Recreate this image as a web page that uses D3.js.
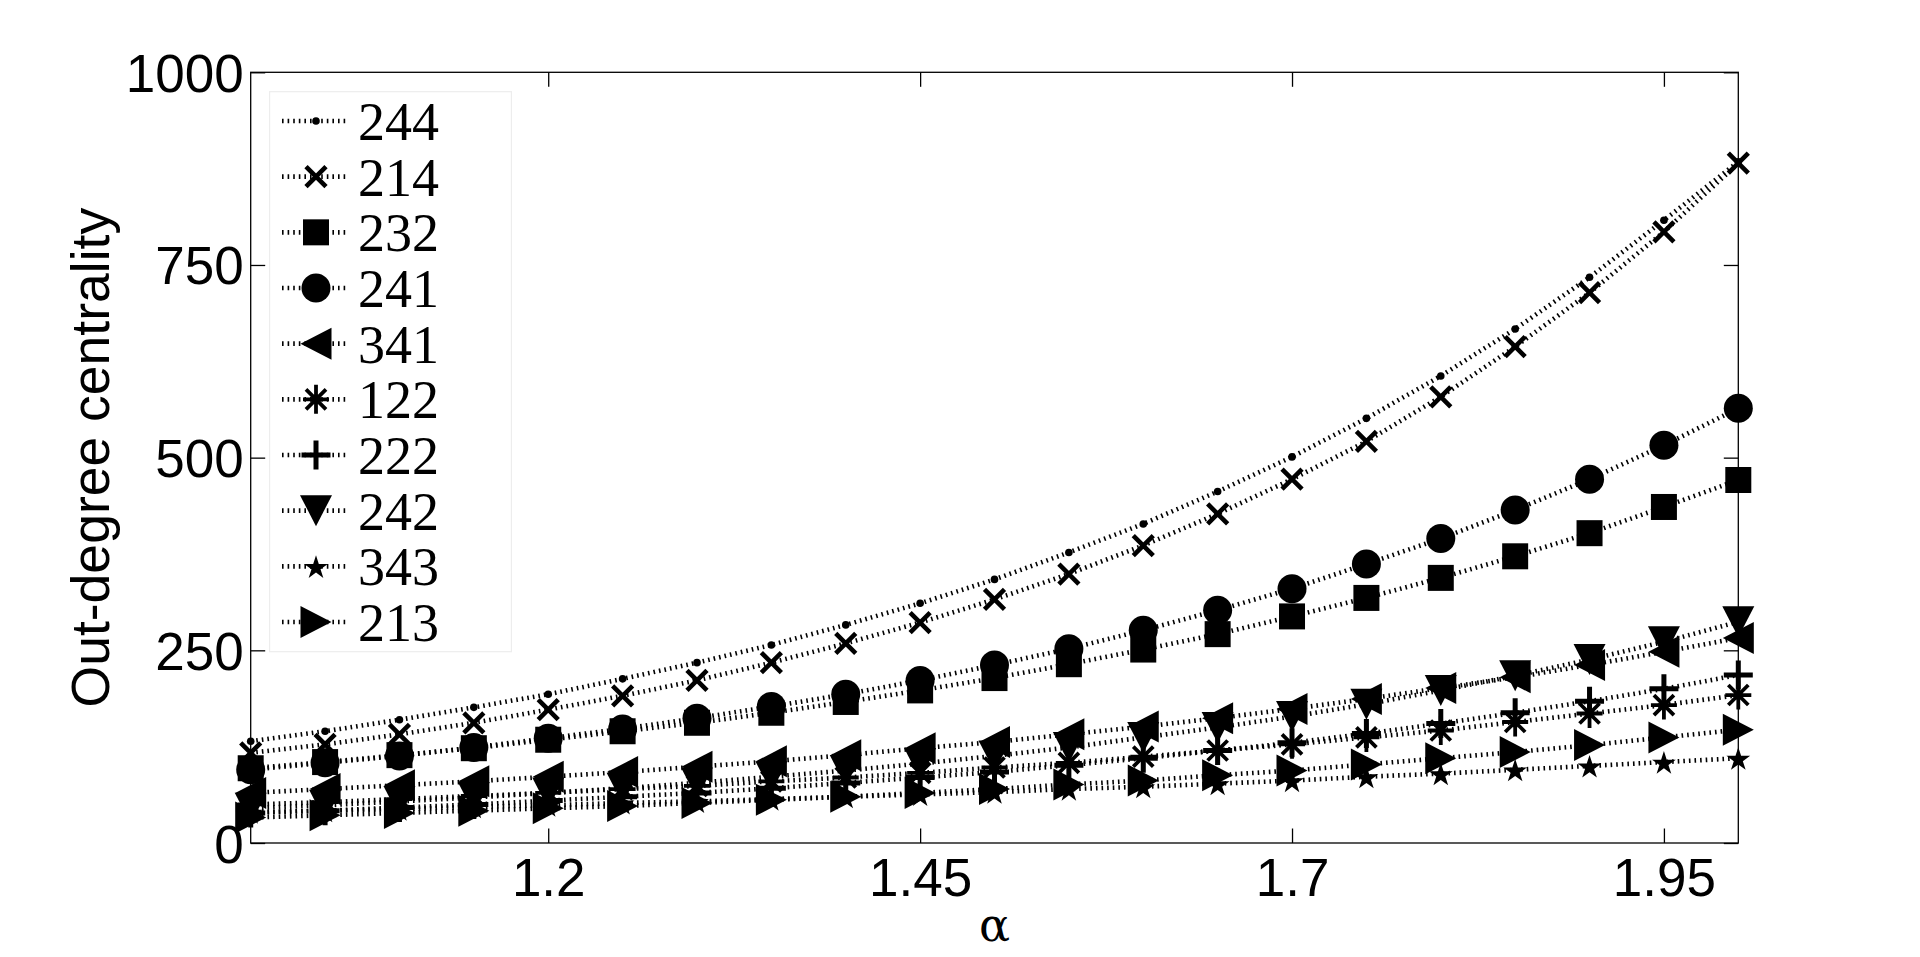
<!DOCTYPE html>
<html><head><meta charset="utf-8">
<script src="https://cdn.jsdelivr.net/npm/d3@7/dist/d3.min.js"></script>
<style>body{margin:0;background:#fff;overflow:hidden}</style>
</head><body>
<svg id="chart" width="1920" height="957"></svg>
<script>
// ---------- data ----------
const alphaValues = [1.00,1.05,1.10,1.15,1.20,1.25,1.30,1.35,1.40,1.45,1.50,1.55,1.60,1.65,1.70,1.75,1.80,1.85,1.90,1.95,2.00];
const seriesNames = ["244","214","232","241","341","122","222","242","343","213"];
const seriesMarkers = ["dot","x","square","circle","left","asterisk","plus","down","star","right"];
const s244 = [132,145,160,176,193,213,234,257,283,311,342,377,414,456,501,551,606,667,734,808,884];
const s214 = [117,128,141,156,173,191,211,234,259,286,316,349,386,427,472,521,579,644,714,793,882];
const s232 = [97,105,114,123,134,145,156,169,183,198,214,232,251,271,294,318,344,372,402,436,471];
const s241 = [95,104,113,124,136,148,162,177,193,211,231,252,276,302,330,362,395,432,472,516,564];
const s341 = [65,70,75,80,86,92,99,106,114,123,131,141,151,162,174,187,201,215,231,248,266];
const s122 = [50,53,57,61,65,70,74,80,85,91,98,104,112,120,128,137,146,157,168,179,192];
const s222 = [39,42,46,50,55,60,65,71,78,85,92,101,110,120,130,142,155,169,184,200,218];
const s242 = [45,49,54,59,65,71,78,86,94,103,113,124,137,150,164,180,198,217,238,261,287];
const s343 = [40,42,44,47,49,52,54,57,60,63,66,70,73,77,81,86,90,95,100,105,110];
const s213 = [33,36,39,42,45,48,52,56,60,65,70,76,81,88,94,102,110,118,127,137,147];
const seriesValues = [s244,s214,s232,s241,s341,s122,s222,s242,s343,s213];
const xTickValues = [1.2,1.45,1.7,1.95];
const xTickLabels = ["1.2","1.45","1.7","1.95"];
const yTickValues = [0,250,500,750,1000];
const yTickLabels = ["0","250","500","750","1000"];

// ---------- layout ----------
const L = 250.7, R = 1738.3, T = 72.3, B = 843;
const svg = d3.select("#chart");
const x = d3.scaleLinear().domain([1,2]).range([L,R]);
const y = d3.scaleLinear().domain([0,1000]).range([B,T]);
const tickLen = 14.5;
const sansFont = "'Liberation Sans', Arial, Helvetica, sans-serif";
const serifFont = "'Liberation Serif', 'Times New Roman', serif";

// ---------- markers ----------
function marker(g, type, cx, cy) {
  const k = "#000";
  switch (type) {
    case "dot":
      g.append("circle").attr("cx",cx).attr("cy",cy).attr("r",3.8).attr("fill",k); break;
    case "x": {
      const h = 10;
      g.append("path").attr("d",`M${cx-h},${cy-h}L${cx+h},${cy+h}M${cx-h},${cy+h}L${cx+h},${cy-h}`)
        .attr("stroke",k).attr("stroke-width",4.6).attr("fill","none"); break; }
    case "square":
      g.append("rect").attr("x",cx-13).attr("y",cy-13).attr("width",26).attr("height",26).attr("fill",k); break;
    case "circle":
      g.append("circle").attr("cx",cx).attr("cy",cy).attr("r",14.5).attr("fill",k); break;
    case "left":
      g.append("path").attr("d",`M${cx-15.5},${cy}L${cx+15.5},${cy-16}L${cx+15.5},${cy+16}Z`).attr("fill",k); break;
    case "right":
      g.append("path").attr("d",`M${cx+15.5},${cy}L${cx-15.5},${cy-16}L${cx-15.5},${cy+16}Z`).attr("fill",k); break;
    case "down":
      g.append("path").attr("d",`M${cx},${cy+15.5}L${cx-16},${cy-15.5}L${cx+16},${cy-15.5}Z`).attr("fill",k); break;
    case "star":
      g.append("path").attr("d", d3.symbol(d3.symbolStar, 14*14*0.8908)()).attr("transform",`translate(${cx},${cy+1.5})`).attr("fill",k); break;
    case "plus": {
      const h = 14.5;
      g.append("path").attr("d",`M${cx-h},${cy}L${cx+h},${cy}M${cx},${cy-h}L${cx},${cy+h}`)
        .attr("stroke",k).attr("stroke-width",5).attr("fill","none"); break; }
    case "asterisk": {
      g.append("path").attr("d",`M${cx-13},${cy}L${cx+13},${cy}M${cx},${cy-14.5}L${cx},${cy+14.5}M${cx-10},${cy-10}L${cx+10},${cy+10}M${cx-10},${cy+10}L${cx+10},${cy-10}`)
        .attr("stroke",k).attr("stroke-width",3.8).attr("fill","none"); break; }
  }
}

// ---------- axes ----------
svg.append("rect").attr("x",L).attr("y",T).attr("width",R-L).attr("height",B-T)
  .attr("fill","none").attr("stroke","#000").attr("stroke-width",1.3);

const gx = svg.append("g").attr("transform",`translate(0,${B})`)
  .call(d3.axisBottom(x).tickValues(xTickValues).tickFormat((d,i)=>xTickLabels[i]).tickSizeInner(-tickLen).tickSizeOuter(0).tickPadding(0));
const gxt = svg.append("g").attr("transform",`translate(0,${T})`)
  .call(d3.axisTop(x).tickValues(xTickValues).tickFormat("").tickSizeInner(-tickLen).tickSizeOuter(0));
const gy = svg.append("g").attr("transform",`translate(${L},0)`)
  .call(d3.axisLeft(y).tickValues(yTickValues).tickFormat((d,i)=>yTickLabels[i]).tickSizeInner(-tickLen).tickSizeOuter(0).tickPadding(0));
const gyr = svg.append("g").attr("transform",`translate(${R},0)`)
  .call(d3.axisRight(y).tickValues(yTickValues).tickFormat("").tickSizeInner(-tickLen).tickSizeOuter(0));
[gx,gxt,gy,gyr].forEach(g => {
  g.select(".domain").remove();
  g.selectAll(".tick line").attr("stroke","#000").attr("stroke-width",1.3);
});
gx.selectAll(".tick text").attr("y",52.5).attr("dy",null).attr("fill","#000")
  .style("font-family",sansFont).style("font-size","53px");
gy.selectAll(".tick text").attr("x",-7).attr("dy",null).attr("dominant-baseline",null).attr("y",19).attr("fill","#000")
  .style("font-family",sansFont).style("font-size","53px");

// axis titles
svg.append("text").attr("transform",`translate(109,${(T+B)/2}) rotate(-90)`).attr("text-anchor","middle")
  .style("font-family",sansFont).style("font-size","53.5px").text("Out-degree centrality");
svg.append("text").attr("x",(L+R)/2).attr("y",941).attr("text-anchor","middle")
  .style("font-family","'DejaVu Serif', serif").style("font-size","46px").text("α");

// ---------- series ----------
const line = d3.line().x((d,i)=>x(alphaValues[i])).y(d=>y(d));
const plot = svg.append("g");
seriesValues.forEach((vals, si) => {
  const g = plot.append("g");
  g.append("path").attr("d", line(vals)).attr("fill","none").attr("stroke","#000")
    .attr("stroke-width",4.6).attr("stroke-dasharray","1.6 4");
  vals.forEach((v,i) => marker(g, seriesMarkers[si], x(alphaValues[i]), y(v)));
});

// ---------- legend ----------
const lg = svg.append("g");
lg.append("rect").attr("x",269.6).attr("y",91.7).attr("width",241.8).attr("height",560)
  .attr("fill","#fff").attr("stroke","#ededed").attr("stroke-width",1.2);
const rowY = d3.scaleLinear().domain([0,9]).range([121,622]);
seriesNames.forEach((name, si) => {
  const cy = rowY(si);
  const g = lg.append("g");
  g.append("line").attr("x1",282).attr("x2",348).attr("y1",cy).attr("y2",cy)
    .attr("stroke","#000").attr("stroke-width",4.6).attr("stroke-dasharray","1.6 4");
  marker(g, seriesMarkers[si], 316, cy);
  g.append("text").attr("x",358).attr("y",cy+19).style("font-family",serifFont).style("font-size","54px").text(name);
});
</script>
</body></html>
